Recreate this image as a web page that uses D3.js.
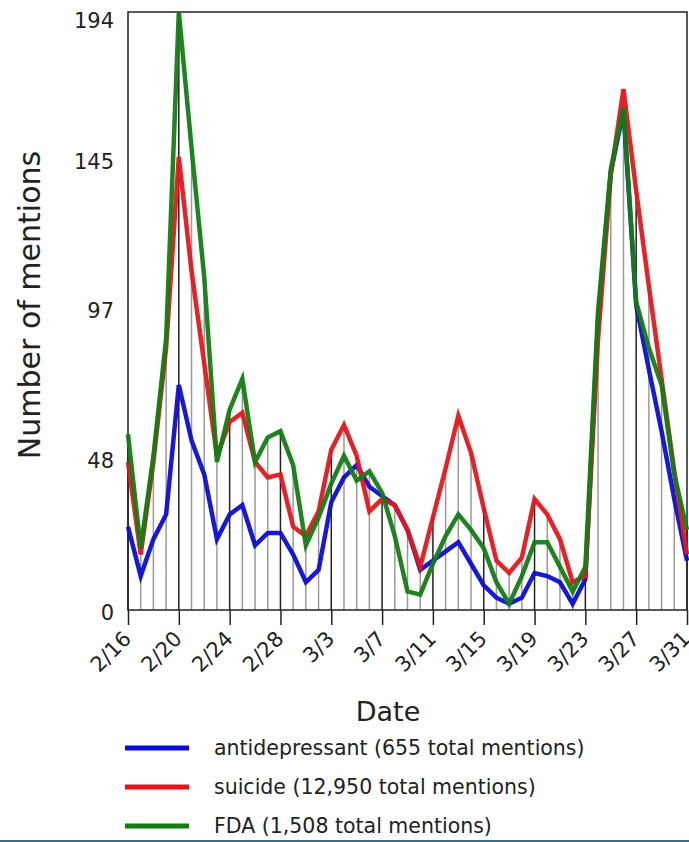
<!DOCTYPE html>
<html lang="en">
<head>
<meta charset="utf-8">
<title>mentions</title>
<script src="https://cdn.jsdelivr.net/npm/d3@7"></script>
<style>
  body { margin: 0; background: #ffffff; }
  svg text { font-family: "DejaVu Sans", "Lucida Grande", sans-serif; fill: #222; }
</style>
</head>
<body>
<svg id="paper" width="689" height="842"></svg>
<script>
// days 2/16 .. 3/31 (leap year, 45 days)
var dayLabels = ["2/16","2/20","2/24","2/28","3/3","3/7","3/11","3/15","3/19","3/23","3/27","3/31"];
var dayTicks = [0,4,8,12,16,20,24,28,32,36,40,44];
var yTicks = [0, 48.5, 97, 145.5, 194];
var yLabels = ["0","48","97","145","194"];

var antidepressant = [27,11,23,31,73,55,44,23,31,34,21,25,25,18,9,13,35,43,47,40,37,34,26,13,16,19,22,15,8,4,2,4,12,11,9,2,10,94,142,162,99,78,58,36,16];
var suicide = [48,18,48,85,147,110,80,50,61,64,48,43,44,27,24,32,52,60,50,32,36,34,26,14,30,46,63,51,33,16,12,17,36,31,23,9,11,88,141,169,136,105,75,45,18];
var fda = [57,20,50,88,194,150,108,48,65,75,48,56,58,47,21,30,41,50,42,45,38,24,6,5,15,24,31,26,20,9,2,11,22,22,14,6,14,97,143,163,100,85,73,44,26];

var series = [
  {name: "antidepressant (655 total mentions)", values: antidepressant, color: "#0c0cd6"},
  {name: "suicide (12,950 total mentions)", values: suicide, color: "#e8141a"},
  {name: "FDA (1,508 total mentions)", values: fda, color: "#137d13"}
];

var svg = d3.select("#paper");
var pLeft = 128, pRight = 687, pTop = 12, pBottom = 610;

var x = d3.scaleLinear().domain([0, 44]).range([pLeft, pRight]);
var y = d3.scaleLinear().domain([0, 194]).range([pBottom, pTop]);

// spikes from 0 up to the highest series that day
var days = d3.range(45);
svg.append("g").selectAll("line").data(days).enter()
  .append("line")
  .attr("x1", function(d){ return x(d); })
  .attr("x2", function(d){ return x(d); })
  .attr("y1", y(0))
  .attr("y2", function(d){ return y(Math.max(antidepressant[d], suicide[d], fda[d])); })
  .attr("stroke", function(d){ return d % 4 == 0 ? "#222" : "#9a9a9a"; })
  .attr("stroke-width", 1.5);

// frame
svg.append("rect")
  .attr("x", pLeft).attr("y", pTop)
  .attr("width", pRight - pLeft).attr("height", pBottom - pTop)
  .attr("fill", "none").attr("stroke", "#222").attr("stroke-width", 1.5);

var line = d3.line()
  .x(function(d, i){ return x(i); })
  .y(function(d){ return y(d); });

// blue under red under green
[series[0], series[1], series[2]].forEach(function(s){
  svg.append("path")
    .attr("d", line(s.values))
    .attr("fill", "none")
    .attr("stroke", s.color)
    .attr("stroke-width", 4.5)
    .attr("stroke-linejoin", "miter")
    .attr("stroke-opacity", 0.95);
});

// x axis
var xAxis = d3.axisBottom(x)
  .tickValues(dayTicks)
  .tickFormat(function(d, i){ return dayLabels[i]; })
  .tickSize(15)
  .tickSizeOuter(0);
var gx = svg.append("g")
  .attr("transform", "translate(0," + pBottom + ")")
  .call(xAxis);
gx.select(".domain").remove();
gx.selectAll(".tick line").attr("stroke", "#222").attr("stroke-width", 1.5);
gx.selectAll(".tick text")
  .attr("font-size", 21)
  .attr("text-anchor", "end")
  .attr("x", 0).attr("y", 0).attr("dy", 0)
  .attr("transform", "translate(4,30) rotate(-45)");

// y axis, labels only
var yAxis = d3.axisLeft(y)
  .tickValues(yTicks)
  .tickFormat(function(d, i){ return yLabels[i]; })
  .tickSize(0)
  .tickPadding(14);
var gy = svg.append("g")
  .attr("transform", "translate(" + pLeft + ",0)")
  .call(yAxis);
gy.select(".domain").remove();
gy.selectAll(".tick text").attr("font-size", 21);
gy.selectAll(".tick").filter(function(d){ return d == 194; })
  .select("text").attr("dy", "0.75em");
gy.selectAll(".tick").filter(function(d){ return d == 0; })
  .select("text").attr("dy", "0.45em");

// titles
svg.append("text")
  .attr("transform", "translate(40,305) rotate(-90)")
  .attr("text-anchor", "middle")
  .attr("font-size", 30)
  .text("Number of mentions");
svg.append("text")
  .attr("x", 388).attr("y", 721)
  .attr("text-anchor", "middle")
  .attr("font-size", 27)
  .text("Date");

// legend
var legend = svg.append("g").selectAll("g").data(series).enter()
  .append("g")
  .attr("transform", function(d, i){ return "translate(0," + (748 + i * 39) + ")"; });
legend.append("line")
  .attr("x1", 125).attr("x2", 189)
  .attr("stroke", function(d){ return d.color; })
  .attr("stroke-width", 5);
legend.append("text")
  .attr("x", 214).attr("y", 7)
  .attr("font-size", 20.5)
  .text(function(d){ return d.name; });

svg.append("rect")
  .attr("x", 0).attr("y", 840).attr("width", 689).attr("height", 2)
  .attr("fill", "#3d6b86");
</script>
</body>
</html>
